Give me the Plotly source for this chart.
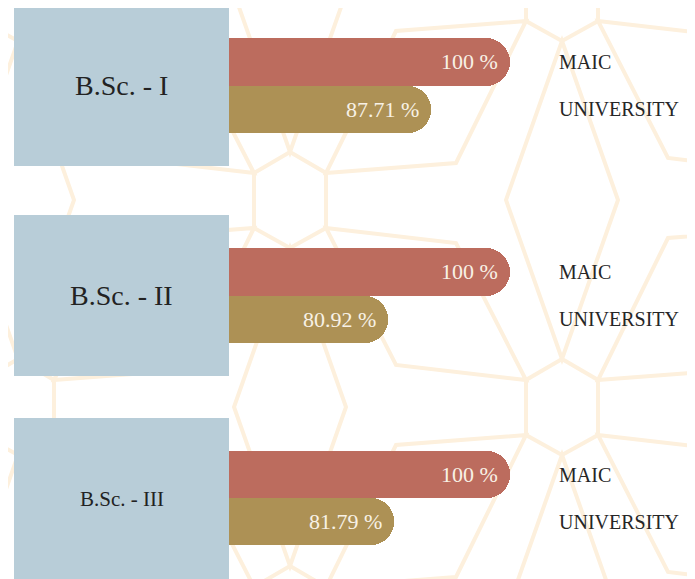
import plotly.graph_objects as go

# ---------------- data ----------------
courses = ["B.Sc. - I", "B.Sc. - II", "B.Sc. - III"]
series = ["MAIC", "UNIVERSITY"]
maic = [100, 100, 100]
university = [87.71, 80.92, 81.79]

# ---------------- layout constants ----------------
OFF = 8                      # page body margin
W, H = 695 - OFF, 579 - OFF
RED = "#bc6c5e"
GOLD = "#ad9155"
BOX = "#b8cdd8"
LINE = "#fdf0dd"
FONT = "Liberation Serif"

def fx(x):
    return (x - OFF) / W

def fy(y):
    return 1 - (y - OFF) / H

bar_rows_px = [(38, 133), (248, 343), (451, 545)]
box_rows_px = [(5, 166), (215, 376), (418, 579)]
label_sizes = [28, 28, 21]
x_dom = [fx(229), fx(552)]
x_range = [56, 106.6]

fig = go.Figure()

annotations = []
for r in range(3):
    ax = "" if r == 0 else str(r + 1)
    vals = [maic[r], university[r]]
    fig.add_trace(go.Bar(
        x=vals, y=series, orientation="h",
        marker=dict(color=[RED, GOLD], line=dict(width=0), cornerradius=24),
        xaxis="x" + ax, yaxis="y" + ax, showlegend=False,
        hoverinfo="skip",
    ))
    top, bot = bar_rows_px[r]
    fig.update_layout(**{
        "xaxis" + ax: dict(domain=x_dom, range=x_range, visible=False,
                           anchor="y" + ax, fixedrange=True),
        "yaxis" + ax: dict(domain=[fy(bot), fy(top)], type="category",
                           categoryorder="array", categoryarray=series,
                           autorange="reversed", side="right",
                           anchor="x" + ax, showgrid=False, zeroline=False,
                           showline=False, ticks="", ticklabelstandoff=6,
                           tickfont=dict(family=FONT, size=20, color="#262626")),
    })
    for s, v in zip(series, vals):
        annotations.append(dict(
            x=v, y=s, xref="x" + ax, yref="y" + ax, text=f"{v:g} %",
            xanchor="right", yanchor="middle", xshift=-10, showarrow=False,
            font=dict(family=FONT, size=22, color="#f8f1e6"),
        ))

shapes = []

# decorative background lattice
def path_of(pts, close=True):
    d = "M " + " L ".join(f"{fx(x):.5f},{fy(y):.5f}" for x, y in pts)
    return d + (" Z" if close else "")

hex_off = [(0, -48), (36, -27), (36, 28), (0, 48), (-36, 28), (-36, -27)]
dia_off = [(0, -159), (56, 0), (0, 159), (-56, 0)]
for i in range(-2, 4):
    for j in range(-2, 5):
        cx, cy = 290 + 272 * i, 200 + 207 * j
        if (i + j) % 2 == 0:
            shapes.append(dict(type="path", xref="paper", yref="paper",
                               path=path_of([(cx + a, cy + b) for a, b in hex_off]),
                               line=dict(color=LINE, width=4), layer="below"))
            kite_up = [(cx + 36, cy - 27), (cx + 166, cy - 37),
                       (cx + 236, cy - 179), (cx + 106, cy - 169)]
            kite_dn = [(cx + 36, cy + 28), (cx + 166, cy + 43),
                       (cx + 236, cy + 180), (cx + 106, cy + 165)]
            for k in (kite_up, kite_dn):
                shapes.append(dict(type="path", xref="paper", yref="paper",
                                   path=path_of(k),
                                   line=dict(color=LINE, width=4), layer="below"))
        else:
            shapes.append(dict(type="path", xref="paper", yref="paper",
                               path=path_of([(cx + a, cy + b) for a, b in dia_off]),
                               line=dict(color=LINE, width=4), layer="below"))

# course boxes + labels
for r, name in enumerate(courses):
    top, bot = box_rows_px[r]
    shapes.append(dict(type="rect", xref="paper", yref="paper",
                       x0=fx(14), x1=fx(229), y0=fy(bot), y1=fy(top),
                       fillcolor=BOX, line=dict(width=0), layer="below"))
    annotations.append(dict(
        x=fx(121.5), y=fy((top + bot) / 2), xref="paper", yref="paper",
        text=name, showarrow=False, xanchor="center", yanchor="middle",
        font=dict(family=FONT, size=label_sizes[r], color="#222222"),
    ))

fig.update_layout(
    width=W, height=H,
    margin=dict(l=0, r=0, t=0, b=0),
    paper_bgcolor="#ffffff",
    plot_bgcolor="rgba(0,0,0,0)",
    bargap=0,
    shapes=shapes,
    annotations=annotations,
    showlegend=False,
)

fig.write_html("out.html")
